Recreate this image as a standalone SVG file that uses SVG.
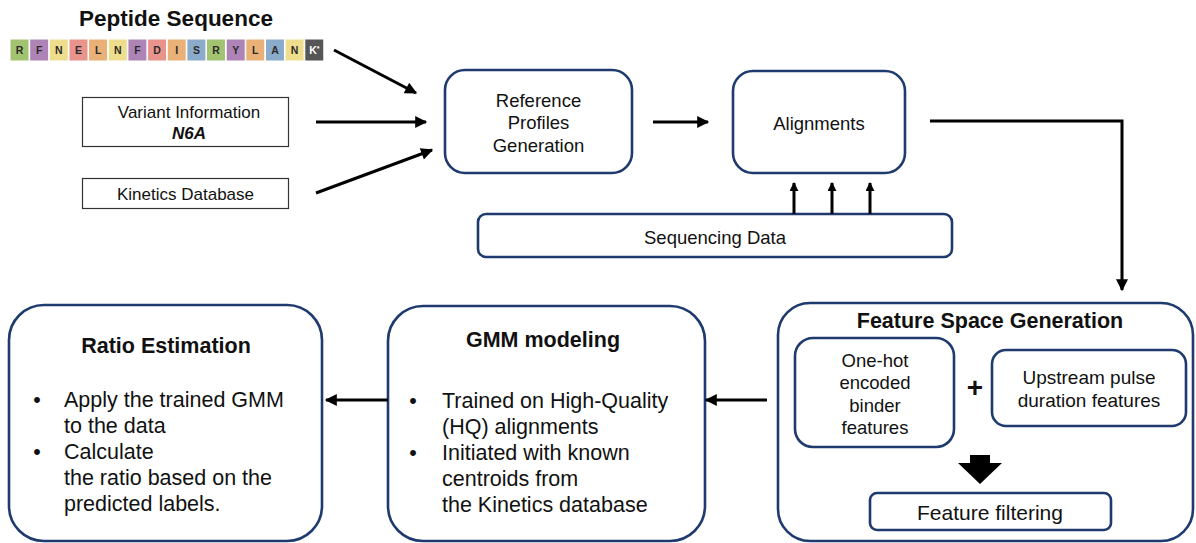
<svg xmlns="http://www.w3.org/2000/svg" width="1196" height="543" viewBox="0 0 1196 543">
<defs>
<style>
text{font-family:"Liberation Sans",Arial,sans-serif;fill:#111}
.box{fill:#fff;stroke:#1f3a6e;stroke-width:2.6}
.plain{fill:#fff;stroke:#333;stroke-width:1.2}
.con{stroke:#000;stroke-width:3;fill:none}
.tile{stroke:#fff;stroke-width:1}
.tl{font-size:10.5px;font-weight:bold;fill:#2a2a2a;text-anchor:middle}
.mid{text-anchor:middle}
.b{font-weight:bold}
.body{font-size:21.5px}
</style>
<marker id="ah" viewBox="0 0 10 10" refX="9" refY="5" markerWidth="14" markerHeight="12" markerUnits="userSpaceOnUse" orient="auto">
<path d="M0,0 L10,5 L0,10 z" fill="#000"/>
</marker>
<marker id="ahs" viewBox="0 0 10 10" refX="9" refY="5" markerWidth="9" markerHeight="9" markerUnits="userSpaceOnUse" orient="auto">
<path d="M0,0 L10,5 L0,10 z" fill="#000"/>
</marker>
</defs>
<rect width="1196" height="543" fill="#fff"/>

<g id="peptide">
<text x="176" y="26" class="mid b" font-size="22.5">Peptide Sequence</text>
<rect class="tile" x="10" y="39" width="19" height="22" fill="#a2c36f"/>
<rect class="tile" x="29.7" y="39" width="19" height="22" fill="#ad84b5"/>
<rect class="tile" x="49.3" y="39" width="19" height="22" fill="#eedd8c"/>
<rect class="tile" x="69" y="39" width="19" height="22" fill="#e8938b"/>
<rect class="tile" x="88.6" y="39" width="19" height="22" fill="#e9b078"/>
<rect class="tile" x="108.3" y="39" width="19" height="22" fill="#eedd8c"/>
<rect class="tile" x="127.9" y="39" width="19" height="22" fill="#ad84b5"/>
<rect class="tile" x="147.6" y="39" width="19" height="22" fill="#e8938b"/>
<rect class="tile" x="167.2" y="39" width="19" height="22" fill="#e9b078"/>
<rect class="tile" x="186.9" y="39" width="19" height="22" fill="#8aabc9"/>
<rect class="tile" x="206.5" y="39" width="19" height="22" fill="#a2c36f"/>
<rect class="tile" x="226.2" y="39" width="19" height="22" fill="#ad84b5"/>
<rect class="tile" x="245.8" y="39" width="19" height="22" fill="#e9b078"/>
<rect class="tile" x="265.5" y="39" width="19" height="22" fill="#8aabc9"/>
<rect class="tile" x="285.1" y="39" width="19" height="22" fill="#eedd8c"/>
<rect class="tile" x="304.8" y="39" width="19" height="22" fill="#565656"/>
<text class="tl" x="19.5" y="54">R</text>
<text class="tl" x="39.2" y="54">F</text>
<text class="tl" x="58.8" y="54">N</text>
<text class="tl" x="78.5" y="54">E</text>
<text class="tl" x="98.1" y="54">L</text>
<text class="tl" x="117.8" y="54">N</text>
<text class="tl" x="137.4" y="54">F</text>
<text class="tl" x="157.1" y="54">D</text>
<text class="tl" x="176.7" y="54">I</text>
<text class="tl" x="196.4" y="54">S</text>
<text class="tl" x="216" y="54">R</text>
<text class="tl" x="235.7" y="54">Y</text>
<text class="tl" x="255.3" y="54">L</text>
<text class="tl" x="275" y="54">A</text>
<text class="tl" x="294.6" y="54">N</text>
<text class="tl" x="314.3" y="54" style="fill:#fff">K<tspan font-size="7" dy="-3">*</tspan></text>
</g>

<g id="variant">
<rect class="plain" x="82.5" y="97.5" width="206" height="49"/>
<text x="189" y="118" class="mid" font-size="17">Variant Information</text>
<text x="189" y="139" class="mid b" font-size="17" font-style="italic">N6A</text>
</g>

<g id="kinetics">
<rect class="plain" x="82.5" y="178.5" width="206" height="30"/>
<text x="185.5" y="199.5" class="mid" font-size="17">Kinetics Database</text>
</g>

<g id="refprofiles">
<rect class="box" x="445" y="70" width="187" height="103" rx="20"/>
<text x="538.5" y="106.5" class="mid" font-size="18.5">Reference</text>
<text x="538.5" y="129" class="mid" font-size="18.5">Profiles</text>
<text x="538.5" y="151.5" class="mid" font-size="18.5">Generation</text>
</g>

<g id="alignments">
<rect class="box" x="733" y="71" width="172" height="102" rx="20"/>
<text x="819" y="129.5" class="mid" font-size="18.5">Alignments</text>
</g>

<g id="seqdata">
<rect class="box" x="478" y="214" width="474" height="43" rx="8"/>
<text x="715" y="243.5" class="mid" font-size="18.5">Sequencing Data</text>
</g>

<g id="featurespace">
<rect class="box" x="778" y="303" width="415" height="238" rx="32"/>
<text x="990" y="328" class="mid b" font-size="21.5">Feature Space Generation</text>
</g>

<g id="onehot">
<rect class="box" x="795" y="338" width="159" height="109" rx="18"/>
<text x="875" y="366.5" class="mid" font-size="18.5">One-hot</text>
<text x="875" y="389" class="mid" font-size="18.5">encoded</text>
<text x="875" y="411.5" class="mid" font-size="18.5">binder</text>
<text x="875" y="434" class="mid" font-size="18.5">features</text>
</g>

<g id="plus">
<text x="975" y="397" class="mid b" font-size="28">+</text>
</g>

<g id="upstream">
<rect class="box" x="992" y="350" width="194" height="76" rx="14"/>
<text x="1089" y="383.5" class="mid" font-size="19">Upstream pulse</text>
<text x="1089" y="406.5" class="mid" font-size="19">duration features</text>
</g>

<g id="featfilter">
<rect class="box" x="870" y="493" width="241" height="37" rx="7"/>
<text x="990" y="519.5" class="mid" font-size="21">Feature filtering</text>
</g>

<g id="gmm">
<rect class="box" x="388" y="306" width="317" height="235" rx="35"/>
<text x="543" y="347" class="mid b" font-size="21.5">GMM modeling</text>
<text x="413" y="408" class="body mid">•</text>
<text x="442" y="408" class="body">Trained on High-Quality</text>
<text x="442" y="434" class="body">(HQ) alignments</text>
<text x="413" y="460" class="body mid">•</text>
<text x="442" y="460" class="body">Initiated with known</text>
<text x="442" y="486" class="body">centroids from</text>
<text x="442" y="512" class="body">the Kinetics database</text>
</g>

<g id="ratio">
<rect class="box" x="9" y="305" width="313" height="236" rx="35"/>
<text x="166" y="353" class="mid b" font-size="21.5">Ratio Estimation</text>
<text x="37" y="407" class="body mid">•</text>
<text x="64" y="407" class="body">Apply the trained GMM</text>
<text x="64" y="433" class="body">to the data</text>
<text x="37" y="459" class="body mid">•</text>
<text x="64" y="459" class="body">Calculate</text>
<text x="64" y="485" class="body">the ratio based on the</text>
<text x="64" y="511" class="body">predicted labels.</text>
</g>

<g id="connectors">
<line class="con" x1="334" y1="50" x2="416" y2="93" marker-end="url(#ah)"/>
<line class="con" x1="316" y1="122" x2="426" y2="122" marker-end="url(#ah)"/>
<line class="con" x1="316" y1="193" x2="432" y2="150" marker-end="url(#ah)"/>
<line class="con" x1="653" y1="122" x2="708" y2="122" marker-end="url(#ah)"/>
<line class="con" stroke-width="3.5" x1="794" y1="214" x2="794" y2="183" marker-end="url(#ahs)"/>
<line class="con" stroke-width="3.5" x1="832" y1="214" x2="832" y2="183" marker-end="url(#ahs)"/>
<line class="con" stroke-width="3.5" x1="870" y1="214" x2="870" y2="183" marker-end="url(#ahs)"/>
<polyline class="con" points="930,121 1122,121 1122,290" marker-end="url(#ah)"/>
<polygon points="970,455 990,455 990,463 1002,463 980,484 958,463 970,463" fill="#000"/>
<line class="con" stroke-width="2.5" x1="767" y1="400" x2="706" y2="400" marker-end="url(#ah)"/>
<line class="con" stroke-width="2.5" x1="388" y1="400" x2="326" y2="400" marker-end="url(#ah)"/>
</g>
</svg>
